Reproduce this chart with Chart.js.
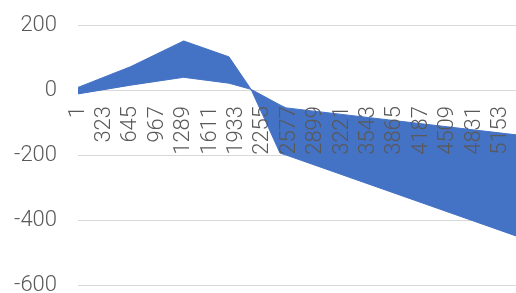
<!DOCTYPE html>
<html>
<head>
<meta charset="utf-8">
<script src="https://cdn.jsdelivr.net/npm/chart.js@4"></script>
<style>
    html, body { margin: 0; padding: 0; background: #ffffff; }
    #wrap { width: 516px; height: 293px; }
</style>
</head>
<body>
<div id="wrap"><canvas id="bandChart" width="516" height="293"></canvas></div>
<script>
// values
const xValues = [1, 645, 1289, 1842, 2111, 2464, 2538, 5342];
const upperSeries = [8, 72, 151, 102, 2, -194, -200, -449];
const lowerSeries = [-12, 15, 39, 21, 2, -46, -55, -138];
const xTickLabels = [1, 323, 645, 967, 1289, 1611, 1933, 2255, 2577, 2899, 3221, 3543, 3865, 4187, 4509, 4831, 5153];
const yTicks = [-600, -400, -200, 0, 200];

const chartConfig = {
    fontColor: '#595959',
    gridColor: '#d9d9d9',
    fill: '#4472c4',
    font: { family: "Roboto, 'Liberation Sans', sans-serif", size: 22, weight: 300 }
};

function toPoints(values) {
    return xValues.map((x, i) => ({ x: x, y: values[i] }));
}

const ctx = document.getElementById('bandChart');

new Chart(ctx, {
    type: 'line',
    data: {
        datasets: [{
            label: 'upper',
            data: toPoints(upperSeries),
            borderColor: chartConfig.fill,
            backgroundColor: chartConfig.fill,
            borderWidth: 1,
            pointRadius: 0,
            tension: 0,
            fill: '+1'
        }, {
            label: 'lower',
            data: toPoints(lowerSeries),
            borderColor: chartConfig.fill,
            backgroundColor: chartConfig.fill,
            borderWidth: 1,
            pointRadius: 0,
            tension: 0,
            fill: false
        }]
    },
    options: {
        responsive: false,
        animation: false,
        layout: {
            padding: { top: 25, bottom: 8, left: 0, right: 0 }
        },
        scales: {
            x: {
                type: 'linear',
                position: { y: 0 },
                min: xValues[0],
                max: xValues[xValues.length - 1],
                grid: { display: false, drawTicks: false },
                border: { display: false },
                afterBuildTicks: function (scale) {
                    scale.ticks = xTickLabels.map(v => ({ value: v }));
                },
                afterFit: function (scale) {
                    scale.paddingLeft = 0;
                    scale.paddingRight = 0;
                },
                ticks: {
                    z: 1, // labels sit on top of the band
                    autoSkip: false,
                    minRotation: 90,
                    maxRotation: 90,
                    padding: 16,
                    color: chartConfig.fontColor,
                    font: chartConfig.font,
                    callback: v => String(v)
                }
            },
            y: {
                min: yTicks[0],
                max: yTicks[yTicks.length - 1],
                grid: { color: chartConfig.gridColor, drawTicks: false },
                border: { display: false },
                afterBuildTicks: function (scale) {
                    scale.ticks = yTicks.map(v => ({ value: v }));
                },
                afterFit: function (scale) {
                    scale.width = 78;
                    scale.paddingTop = 0;
                    scale.paddingBottom = 0;
                },
                ticks: {
                    padding: 21,
                    color: chartConfig.fontColor,
                    font: chartConfig.font,
                    callback: v => String(v)
                }
            }
        },
        plugins: {
            legend: { display: false },
            tooltip: { enabled: false }
        }
    }
});
</script>
</body>
</html>
